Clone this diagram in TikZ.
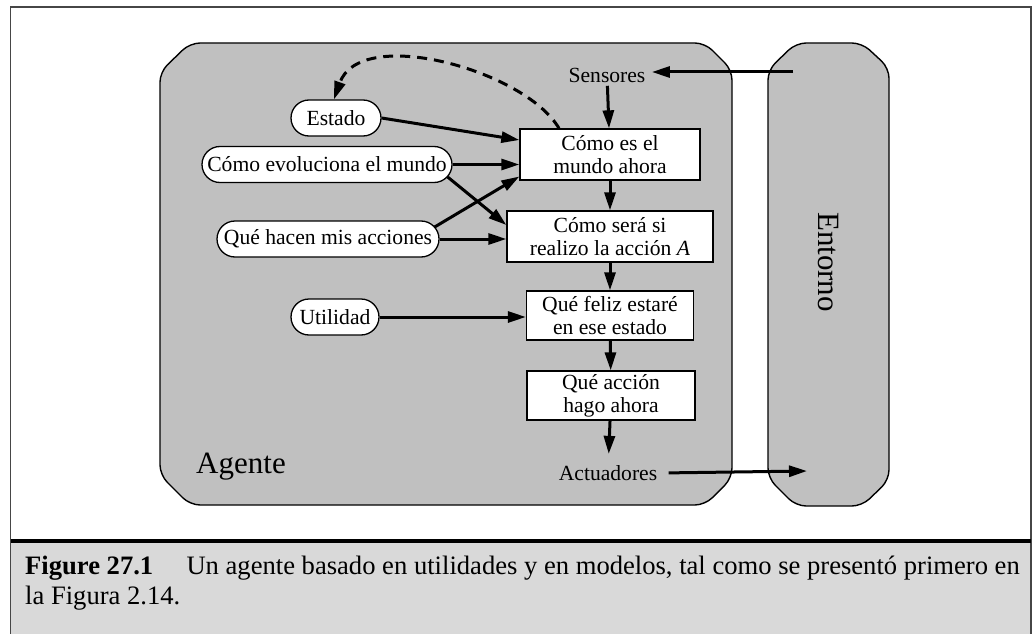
\documentclass[tikz,border=0pt]{standalone}
\usepackage{fontspec}
\setmainfont{Liberation Serif}
\usetikzlibrary{arrows.meta, shapes.misc}
\definecolor{agentgray}{RGB}{192,192,192}
\definecolor{capgray}{RGB}{217,217,217}
\definecolor{framegray}{RGB}{70,70,70}
\tikzstyle{oval}=[draw, fill=white, rounded rectangle, line width=1.3pt, inner xsep=4pt, minimum height=36pt]
\tikzstyle{stage}=[draw, fill=white, line width=1.3pt, align=center, inner sep=2pt]
\tikzstyle{flow}=[line width=3pt, -{Triangle[length=18pt,width=11pt]}]
\tikzstyle{region}=[draw, fill=agentgray, line width=1.4pt, rounded corners=10pt]

\begin{document}
\begin{tikzpicture}[x=1pt, y=-1pt, font=\fontsize{21.6}{23}\selectfont]
				\useasboundingbox (0,0) rectangle (1033,634);

				% frame and caption band
				\fill[capgray] (10.5,541) rectangle (1031,640);
				\draw[framegray, line width=1.2pt] (10.5,640) -- (10.5,7) -- (1031,7) -- (1031,640);
				\draw[line width=4.5pt] (10.5,541) -- (1031,541);
				\node[anchor=base west, align=left, inner sep=0pt, font=\fontsize{26.6}{30}\selectfont] (caption) at (25,604)
					{\textbf{Figure 27.1}\quad\ Un agente basado en utilidades y en modelos, tal como se present\'o primero en\\la Figura 2.14.};

				% agent and environment
				\draw[region] (160,72) -- (190,43) -- (705,43) -- (732,70) -- (732,478) -- (705,505) -- (190,505) -- (160,475) -- cycle;
				\draw[region] (768,70) -- (796,43) -- (862,43) -- (889,68) -- (889,480) -- (862,506) -- (796,506) -- (768,478) -- cycle;
				\node[font=\fontsize{31}{34}\selectfont] (agente) at (241,467) {Agente};
				\node[font=\fontsize{31}{34}\selectfont, rotate=-90] (entorno) at (828,262) {Entorno};

				% inner boxes
				\node (sensores) at (607,75) {Sensores};
				\node (actuadores) at (608,473) {Actuadores};
				\node[stage, minimum width=180pt, minimum height=51pt] (mundo) at (610,154.5) {C\'omo es el\\mundo ahora};
				\node[stage, minimum width=206pt, minimum height=51pt] (sera) at (610,236.5) {C\'omo ser\'a si\\realizo la acci\'on \textit{A}};
				\node[stage, minimum width=167pt, minimum height=49pt] (feliz) at (610,315.5) {Qu\'e feliz estar\'e\\en ese estado};
				\node[stage, minimum width=168pt, minimum height=49pt] (accion) at (611,395.5) {Qu\'e acci\'on\\hago ahora};

				\node[oval, minimum width=98pt] (estado) at (336,118) {Estado};
				\node[oval, minimum width=258pt] (evol) at (327,164.5) {C\'omo evoluciona el mundo};
				\node[oval, minimum width=230pt] (hacen) at (328,239) {Qu\'e hacen mis acciones};
				\node[oval, minimum width=96pt] (utilidad) at (335,317) {Utilidad};

				\coordinate (envin) at (793,72);
				\coordinate (envout) at (807,471);

				% connectors
				\draw[flow, shorten >=3pt] (envin) -- (envin -| sensores.east);
				\draw[flow, shorten <=8pt] (actuadores.east) -- (envout);
				\draw[flow] (sensores) -- (mundo);
				\draw[flow] (mundo) -- (sera);
				\draw[flow] (sera) -- (feliz);
				\draw[flow] (feliz) -- (accion);
				\draw[flow, shorten >=8pt] (accion) -- (actuadores);

				\draw[flow] (estado.east) -- ([yshift=14.5pt]mundo.west);
				\draw[flow] (evol.east) -- (evol.east -| mundo.west);
				\draw[flow] ([xshift=-5pt, yshift=-12.5pt]evol.east) -- ([yshift=11.5pt]sera.west);
				\draw[flow] ([xshift=-5pt, yshift=12pt]hacen.east) -- ([yshift=-22pt]mundo.west);
				\draw[flow] (hacen.east) -- (hacen.east -| sera.west);
				\draw[flow] (utilidad.east) -- (utilidad.east -| feliz.west);

				\draw[flow, dashed, dash pattern=on 10pt off 7pt] (mundo.north -| 559,0) .. controls (525,70) and (360,25) .. (estado.north -| 334,0);
			\end{tikzpicture}
\end{document}
